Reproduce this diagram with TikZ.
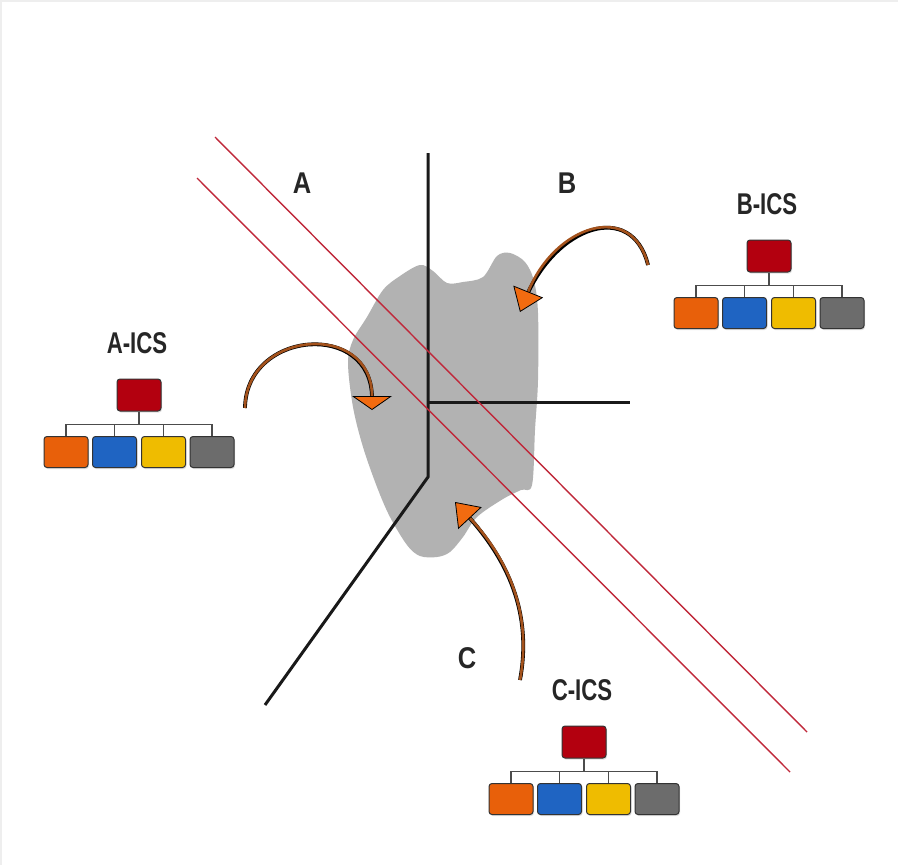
\documentclass[tikz,border=0pt]{standalone}
\usepackage{fontspec}
\newfontfamily\labelfont{Liberation Sans}
\usetikzlibrary{calc}
\usetikzlibrary{arrows.meta}
\usetikzlibrary{shadows}
\usetikzlibrary{math}

\definecolor{framegray}{HTML}{EEEEEE}
\definecolor{blobgray}{HTML}{B2B2B2}
\definecolor{borderred}{HTML}{C0283A}
\definecolor{orgred}{HTML}{B3000F}
\definecolor{orgorange}{HTML}{E8600A}
\definecolor{orgblue}{HTML}{1F64C2}
\definecolor{orgyellow}{HTML}{EFBC00}
\definecolor{orggray}{HTML}{6C6C6C}
\definecolor{curvebrown}{HTML}{A4521C}
\definecolor{tiporange}{HTML}{F26B10}

\tikzset{
  unit/.style={draw=black!80, line width=1pt, rounded corners=3pt,
    minimum width=44pt, minimum height=31pt, inner sep=0pt,
    drop shadow={opacity=0.25, shadow xshift=1pt, shadow yshift=-1.5pt}},
  chief/.style={unit, fill=orgred, minimum height=32pt},
  branch/.style={draw=black!70, line width=1.2pt},
  icslabel/.style={font=\labelfont\bfseries\fontsize{30}{30}\selectfont,
    text=black!85, inner sep=0pt},
  axisline/.style={draw=black!90, line width=3pt},
  borderline/.style={draw=borderred, line width=1.4pt},
  inflow/.style={draw=curvebrown, line width=2.6pt,
    preaction={draw=black, line width=3.8pt, -, shorten >=12pt}},
}

% one incident command system: chief box, four units, label
\newcommand{\icschart}[4]{%
  \node[chief] (#1top) at (#2,#3) {};
  \node[icslabel] (#1lbl) at ($(#1top)+(-2,-52)$) {\scalebox{0.74}[1]{#4}};
  \node[unit, fill=orgorange] (#11) at ($(#1top)+(-73,57)$) {};
  \node[unit, fill=orgblue]   (#12) at ($(#1top)+(-24.5,57)$) {};
  \node[unit, fill=orgyellow] (#13) at ($(#1top)+(24.5,57)$) {};
  \node[unit, fill=orggray]   (#14) at ($(#1top)+(73,57)$) {};
  \coordinate (#1bus) at ($(#1top.south)+(0,13)$);
  \draw[branch] (#1top.south) -- (#1bus);
  \draw[branch] (#11.north) |- (#1bus) -| (#14.north);
  \draw[branch] (#12.north) -- (#12.north |- #1bus);
  \draw[branch] (#13.north) -- (#13.north |- #1bus);
}

\begin{document}
\begin{tikzpicture}[x=1pt, y=-1pt]

  % page with its thin frame
  \fill[framegray] (0,0) rectangle (898,865);
  \fill[white] (2,2) rectangle (898,865);
  \useasboundingbox (0,0) rectangle (898,865);

  % the incident area
  \fill[blobgray] plot[smooth cycle, tension=0.55] coordinates {
    (420,265) (433,271) (447,283) (463,282) (483,277) (497,256) (510,253)
    (525,262) (534,281) (538,313) (538,380) (535,430) (532,485) (521,490)
    (503,499) (477,517) (463,537) (450,552) (437,557) (420,556) (407,545)
    (390,517) (377,487) (363,447) (353,407) (348,363) (353,340) (367,317)
    (383,290) (400,276)};

  % jurisdiction boundaries
  \coordinate (O) at (428,402);
  \coordinate (N) at (428,153);
  \coordinate (E) at (630,402);
  \coordinate (S) at (428,477);
  \coordinate (SW) at (265,705);
  \draw[axisline] (N) -- (S) -- (SW);
  \draw[axisline] (O) -- (E);

  % the two parallel red lines
  \coordinate (R1a) at (215,137);
  \coordinate (R1b) at (807,732);
  \coordinate (R2a) at (197,178);
  \coordinate (R2b) at (790,772);
  \draw[borderline] (R1a) -- (R1b);
  \draw[borderline] (R2a) -- (R2b);

  % region labels
  \node[icslabel] (lblA) at (302,183) {\scalebox{0.85}[1]{A}};
  \node[icslabel] (lblB) at (567,183) {\scalebox{0.85}[1]{B}};
  \node[icslabel] (lblC) at (467,658) {\scalebox{0.85}[1]{C}};

  % the three ICS charts
  \icschart{A}{139}{395}{A-ICS}
  \icschart{B}{769}{256}{B-ICS}
  \icschart{C}{584}{742}{C-ICS}

  % arrows from each chart into the area
  \coordinate (Ain) at (372,410);
  \coordinate (Bin) at (520,312);
  \coordinate (Cin) at (455,502);
  \coordinate (Aout) at (245,408);
  \coordinate (Bout) at (648,265);
  \coordinate (Cout) at (520,680);
  \draw[inflow, -{Triangle[width=40pt, length=14pt, color=black, fill=tiporange, line width=0.8pt]}]
    (Aout) .. controls (246,330) and (372,320) .. (Ain);
  \draw[inflow, -{Triangle[width=32pt, length=22pt, color=black, fill=tiporange, line width=0.8pt]}]
    (Bout) .. controls (632,200) and (555,225) .. (Bin);
  \draw[inflow, -{Triangle[width=32pt, length=22pt, color=black, fill=tiporange, line width=0.8pt]}]
    (Cout) .. controls (535,600) and (495,545) .. (Cin);

\end{tikzpicture}
\end{document}
